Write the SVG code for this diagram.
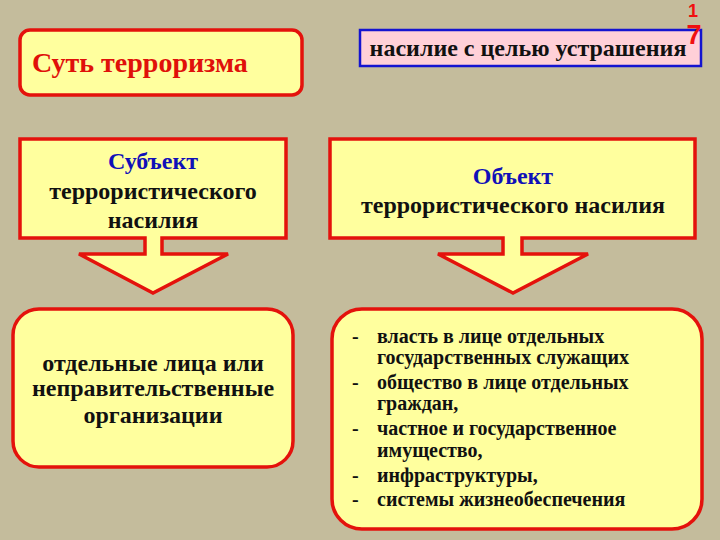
<svg xmlns="http://www.w3.org/2000/svg" width="720" height="540" viewBox="0 0 720 540">
<style>
.box{fill:#FFFF9E;stroke:#E4120C;stroke-width:3.5;stroke-linejoin:miter}
.t{font-family:"Liberation Serif","Times New Roman",serif;font-weight:bold;fill:#111}
.c{text-anchor:middle}
.blue{fill:#1010B8}
.num{font-family:"Liberation Sans",Arial,sans-serif;font-weight:bold;fill:#F01010;text-anchor:middle}
</style>
<rect width="720" height="540" fill="#C4BC9C"/>
<g id="title">
<rect class="box" x="20" y="30" width="282" height="65" rx="10"/>
<text class="t" x="32" y="72" font-size="28" style="fill:#E0100A">Суть терроризма</text>
</g>
<g id="definition">
<rect x="360" y="30" width="341" height="36" fill="#FFD0D8" stroke="#1414D0" stroke-width="2.5"/>
<text class="t c" x="528" y="56" font-size="24">насилие с целью устрашения</text>
</g>
<g id="page-number">
<text class="num" x="693" y="17" font-size="18">1</text>
<text class="num" x="694" y="44" font-size="27">7</text>
</g>
<g id="subject">
<path class="box" d="M20 139 H286 V238 H162 V254 H228 L153 293 L79 254 H145 V238 H20 Z"/>
<text class="t c blue" x="153" y="169" font-size="24" style="fill:#1010B8">Субъект</text>
<text class="t c" x="153" y="199" font-size="24">террористического</text>
<text class="t c" x="153" y="228" font-size="24">насилия</text>
</g>
<g id="object">
<path class="box" d="M330 139 H695 V238 H522 V254 H588 L513 293 L438 254 H503 V238 H330 Z"/>
<text class="t c blue" x="513" y="184" font-size="24" style="fill:#1010B8">Объект</text>
<text class="t c" x="513" y="213" font-size="24">террористического насилия</text>
</g>
<g id="subject-list">
<rect class="box" x="13" y="309" width="280" height="158" rx="26"/>
<text class="t c" x="153" y="371" font-size="24">отдельные лица или</text>
<text class="t c" x="153" y="396" font-size="24">неправительственные</text>
<text class="t c" x="153" y="423" font-size="24">организации</text>
</g>
<g id="object-list">
<rect class="box" x="332" y="309" width="370" height="220" rx="30"/>
<g class="t" font-size="20">
<text x="352" y="343">-</text>
<text x="377" y="343">власть в лице отдельных</text>
<text x="377" y="364">государственных служащих</text>
<text x="352" y="389">-</text>
<text x="377" y="389">общество в лице отдельных</text>
<text x="377" y="410">граждан,</text>
<text x="352" y="435">-</text>
<text x="377" y="435">частное и государственное</text>
<text x="377" y="457">имущество,</text>
<text x="352" y="482">-</text>
<text x="377" y="482">инфраструктуры,</text>
<text x="352" y="506">-</text>
<text x="377" y="506">системы жизнеобеспечения</text>
</g>
</g>
</svg>
